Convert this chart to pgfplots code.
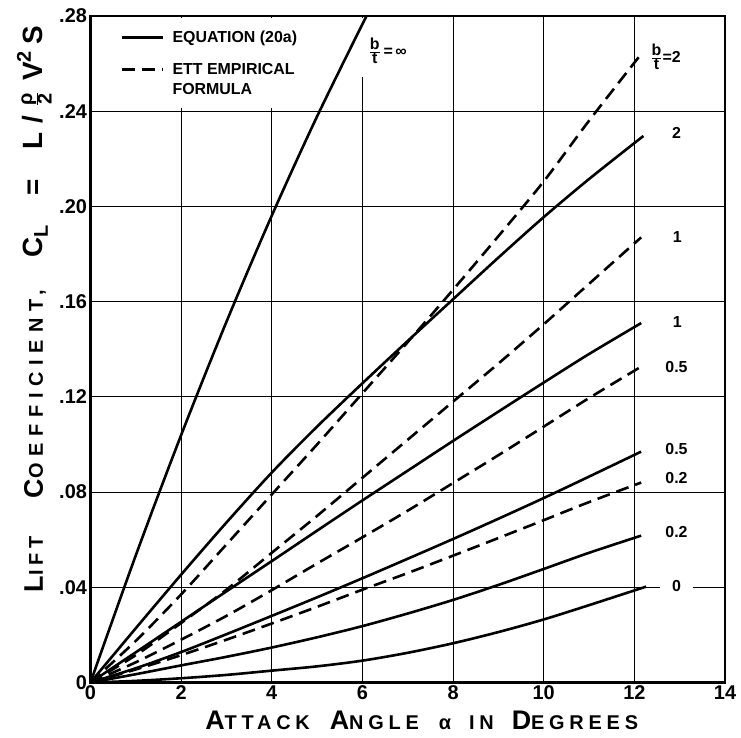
\documentclass[border=0pt]{standalone}
\usepackage{pgfplots}
\pgfplotsset{compat=1.18}
\usepackage{fontspec}
\setmainfont{Liberation Sans}
\newfontfamily\lab[LetterSpace=24]{Liberation Sans}
\newfontfamily\labw[LetterSpace=34]{Liberation Sans}
\newcommand{\Bg}{\fontsize{27}{27}\selectfont}
\newcommand{\BG}{\fontsize{28}{28}\selectfont}
\newcommand{\Sm}{\fontsize{20}{20}\selectfont}
\newcommand{\Lb}{\bfseries\fontsize{16}{16}\selectfont}
\begin{document}
\begin{tikzpicture}
\begin{axis}[
  scale only axis, width=635bp, height=667bp,
  xmin=0, xmax=14, ymin=0, ymax=0.28,
  xtick={0,2,4,6,8,10,12,14},
  xticklabels={0,2,4,6,8,10,12,14},
  ytick={0,0.04,0.08,0.12,0.16,0.20,0.24,0.28},
  yticklabels={0,.04,.08,.12,.16,.20,.24,.28},
  major tick length=0pt,
  tick style={draw=none},
  grid=major,
  major grid style={black, line width=1bp},
  axis line style={black, line width=2.6bp},
  tick label style={font=\bfseries\fontsize{20}{20}\selectfont},
  xlabel={\lab\bfseries\Bg A\Sm TTACK\hspace{20bp}\Bg A\Sm NGLE\hspace{20bp}α\hspace{18bp}IN\hspace{18bp}\Bg D\Sm EGREES},
  xlabel style={at={(axis description cs:0.522,0)}, anchor=base, yshift=-47bp},
  ylabel={\lab\bfseries\Bg L\Sm IFT\hspace{38bp}{\labw\bfseries\Bg C\Sm OEFFICIENT,}\hspace{32bp}\BG C\raisebox{-5bp}{\Sm L}\hspace{30bp}=\hspace{30bp}L\hspace{9bp}/\hspace{9bp}$\frac{\mbox{\Sm ρ}}{\mbox{\Sm 2}}$\hspace{11bp}V\raisebox{12bp}{\Sm 2}\hspace{6bp}S},
  ylabel style={at={(axis description cs:-0.0748,0.56)}, anchor=base},
  legend style={at={(axis cs:0.67,0.2741)}, anchor=north west, draw=none, fill=none,
    inner sep=0pt, row sep=17bp, column sep=7bp,
    font=\bfseries\fontsize{16}{20}\selectfont, nodes={inner sep=1bp}},
  legend cell align=left,
  legend image code/.code={\draw[#1] (0bp,0bp) -- (41bp,0bp);},
  every axis plot/.append style={black, line width=2.6bp, smooth, tension=0.5},
  dashpat/.style={dash pattern=on 13bp off 7bp},
]
% gaps in the grid under the legend and the top label
\fill[white] (axis cs:0.06,0.2414) rectangle (axis cs:5.0,0.2792);
\fill[white] (axis cs:5.9,0.2545) rectangle (axis cs:6.15,0.2792);

% b/t = infinity (Equation 20a)
\addplot[solid] coordinates {(0,0) (1,0.0534) (2,0.1039) (3,0.1515) (4,0.1961) (5,0.2378) (6.09,0.28)};
\addlegendentry{EQUATION (20a)}
% b/t = 2 ETT
\addplot[dashpat] coordinates {(0,0) (1,0.0175) (2,0.037) (3,0.058) (4,0.079) (5,0.100) (6,0.1215) (7,0.143) (8,0.165) (9,0.1875) (10,0.2105) (11,0.236) (12.15,0.264)};
\addlegendentry{\vtop{\hbox{ETT EMPIRICAL}\hbox{FORMULA}}}
% b/t = 2 Equation
\addplot[forget plot] coordinates {(0,0) (1,0.0228) (2,0.0453) (3,0.0672) (4,0.0882) (5,0.1075) (6,0.1257) (7,0.1435) (8,0.161) (9,0.1785) (10,0.1955) (11,0.2115) (12.2,0.2296)};
% b/t = 1 ETT
\addplot[forget plot, dashpat] coordinates {(0,0) (1,0.0115) (2,0.025) (3,0.039) (4,0.0545) (5,0.070) (6,0.086) (7,0.102) (8,0.118) (9,0.134) (10,0.1505) (11,0.1675) (12.15,0.187)};
% b/t = 1 Equation
\addplot[forget plot] coordinates {(0,0) (1,0.0127) (2,0.0255) (3,0.0383) (4,0.051) (5,0.0638) (6,0.0765) (7,0.089) (8,0.1015) (9,0.1138) (10,0.126) (11,0.138) (12.15,0.151)};
% b/t = 0.5 ETT
\addplot[forget plot, dashpat] coordinates {(0,0) (1,0.0085) (2,0.018) (3,0.028) (4,0.0388) (5,0.050) (6,0.061) (7,0.0722) (8,0.0838) (9,0.0955) (10,0.1075) (11,0.1195) (12.15,0.1327)};
% b/t = 0.5 Equation
\addplot[forget plot] coordinates {(0,0) (1,0.006) (2,0.0128) (3,0.0203) (4,0.028) (5,0.0358) (6,0.0438) (7,0.052) (8,0.0603) (9,0.0688) (10,0.0775) (11,0.0865) (12.15,0.097)};
% b/t = 0.2 ETT
\addplot[forget plot, dashpat] coordinates {(0,0) (1,0.0055) (2,0.0115) (3,0.018) (4,0.0248) (5,0.0318) (6,0.039) (7,0.046) (8,0.0533) (9,0.0607) (10,0.0682) (11,0.0758) (12.15,0.084)};
% b/t = 0.2 Equation
\addplot[forget plot] coordinates {(0,0) (1,0.0035) (2,0.0072) (3,0.0108) (4,0.0147) (5,0.019) (6,0.0237) (7,0.029) (8,0.0347) (9,0.041) (10,0.0477) (11,0.0545) (12.15,0.0617)};
% b/t = 0 Equation
\addplot[forget plot] coordinates {(0,0) (1,0.0007) (2,0.0018) (3,0.0032) (4,0.005) (5,0.0068) (6,0.0092) (7,0.0125) (8,0.0165) (9,0.0212) (10,0.0265) (11,0.0325) (12.26,0.0403)};

% curve labels
\node[font=\Lb] at (axis cs:6.56,0.2653) {$\frac{\mbox{\Lb b}}{\mbox{\Lb t}}$\,=\,∞};
\node[font=\Lb] at (axis cs:12.69,0.2628) {$\frac{\mbox{\Lb b}}{\mbox{\Lb t}}$=2};
\node[font=\Lb] at (axis cs:12.93,0.231) {2};
\node[font=\Lb] at (axis cs:12.95,0.187) {1};
\node[font=\Lb] at (axis cs:12.95,0.1515) {1};
\node[font=\Lb] at (axis cs:12.93,0.1327) {0.5};
\node[font=\Lb] at (axis cs:12.93,0.098) {0.5};
\node[font=\Lb] at (axis cs:12.93,0.086) {0.2};
\node[font=\Lb] at (axis cs:12.93,0.0634) {0.2};
\node[font=\Lb, fill=white, inner xsep=12bp, inner ysep=1bp] at (axis cs:12.93,0.0405) {0};
\end{axis}
\path ([shift={(-90.5bp,-55bp)}]current axis.south west) rectangle ([shift={(16bp,16bp)}]current axis.north east);
\end{tikzpicture}
\end{document}
